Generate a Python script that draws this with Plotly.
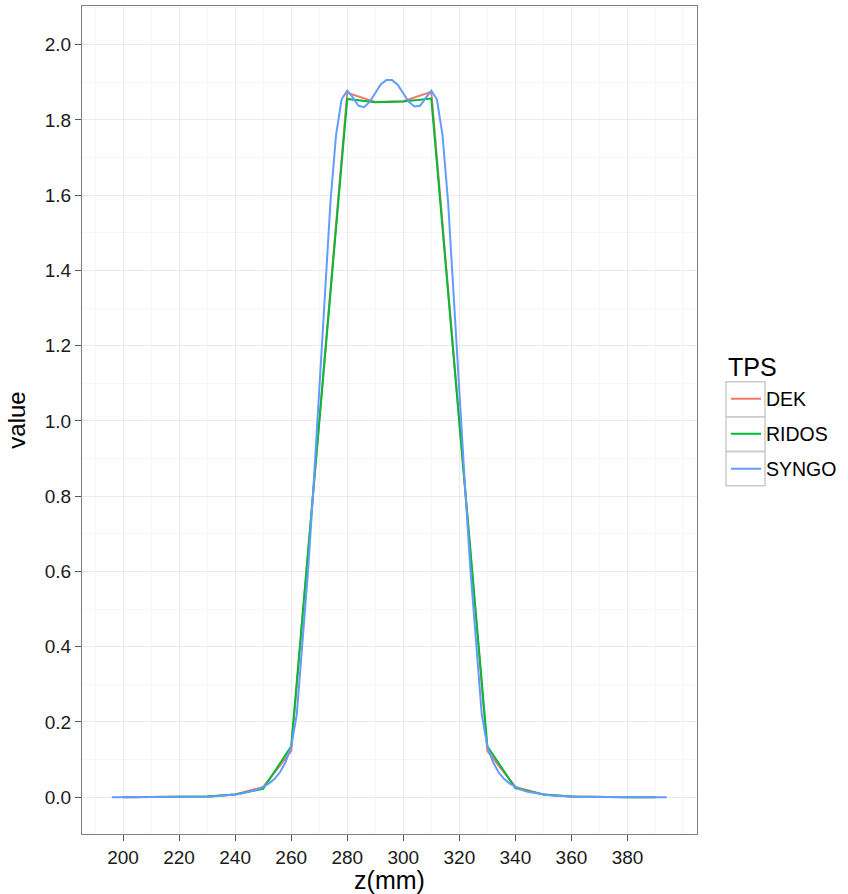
import plotly.graph_objects as go

# ---------------- data ----------------
tps_names = ["DEK", "RIDOS", "SYNGO"]
tps_colors = ["#F8766D", "#00BA38", "#619CFF"]

z_coarse = [200, 210, 220, 230, 240, 250, 260, 270, 280, 290,
            300, 310, 320, 330, 340, 350, 360, 370, 380, 390]
dek_values = [0.0, 0.0, 0.0005, 0.002, 0.007, 0.027, 0.122, 0.99, 1.872, 1.848,
              1.850, 1.875, 0.99, 0.122, 0.027, 0.007, 0.002, 0.0005, 0.0, 0.0]
ridos_values = [0.0, 0.0, 0.0005, 0.002, 0.007, 0.022, 0.135, 0.995, 1.856, 1.847,
                1.849, 1.857, 0.995, 0.135, 0.024, 0.007, 0.002, 0.0005, 0.0, 0.0]

z_fine = [196, 198, 200, 202, 204, 206, 208, 210, 212, 214,
          216, 218, 220, 222, 224, 226, 228, 230, 232, 234,
          236, 238, 240, 242, 244, 246, 248, 250, 252, 254,
          256, 258, 260, 262, 264, 266, 268, 270, 272, 274,
          276, 278, 280, 282, 284, 286, 288, 290, 292, 294,
          296, 298, 300, 302, 304, 306, 308, 310, 312, 314,
          316, 318, 320, 322, 324, 326, 328, 330, 332, 334,
          336, 338, 340, 342, 344, 346, 348, 350, 352, 354,
          356, 358, 360, 362, 364, 366, 368, 370, 372, 374,
          376, 378, 380, 382, 384, 386, 388, 390, 392, 394]
syngo_values = [0.0, 0.0, 0.0, 0.0, 0.0, 0.0, 0.0, 0.0, 0.0, 0.0,
                0.0, 0.0, 0.0002, 0.0003, 0.0004, 0.0005, 0.001, 0.0015, 0.002, 0.003,
                0.004, 0.005, 0.007, 0.009, 0.012, 0.015, 0.02, 0.027, 0.036, 0.048,
                0.066, 0.093, 0.135, 0.22, 0.40, 0.60, 0.83, 1.07, 1.32, 1.58,
                1.76, 1.855, 1.878, 1.86, 1.838, 1.834, 1.848, 1.872, 1.895, 1.906,
                1.906, 1.894, 1.872, 1.848, 1.836, 1.838, 1.858, 1.878, 1.855, 1.76,
                1.58, 1.32, 1.07, 0.83, 0.60, 0.40, 0.22, 0.135, 0.093, 0.066,
                0.048, 0.036, 0.027, 0.02, 0.015, 0.012, 0.009, 0.007, 0.005, 0.004,
                0.003, 0.002, 0.0015, 0.001, 0.0005, 0.0004, 0.0003, 0.0002, 0.0, 0.0,
                0.0, 0.0, 0.0, 0.0, 0.0, 0.0, 0.0, 0.0, 0.0, 0.0]

x_ticks = [200, 220, 240, 260, 280, 300, 320, 340, 360, 380]
y_ticks = [0.0, 0.2, 0.4, 0.6, 0.8, 1.0, 1.2, 1.4, 1.6, 1.8, 2.0]
y_tick_labels = ["0.0", "0.2", "0.4", "0.6", "0.8", "1.0", "1.2", "1.4", "1.6", "1.8", "2.0"]
legend_title = "TPS"

# ---------------- layout geometry ----------------
W, H = 848, 894
PL, PR, PT, PB = 82, 697, 5, 835  # panel pixel bounds


def px_x(p):
    return (p - PL) / (PR - PL)


def px_y(p):
    return (PB - p) / (PB - PT)


series = [(z_coarse, dek_values), (z_coarse, ridos_values), (z_fine, syngo_values)]

fig = go.Figure()
for i, (name, color, (zx, vals)) in enumerate(zip(tps_names, tps_colors, series)):
    fig.add_trace(go.Scatter(
        x=zx, y=vals, mode="lines", name=name,
        line=dict(color=color, width=2),
        legendgroup=name,
    ))

grid_major = "#ebebeb"
grid_minor = "#f6f6f6"
border = "#7f7f7f"
font_fam = "Liberation Sans, Arial, sans-serif"

fig.update_layout(
    width=W, height=H,
    margin=dict(l=PL, r=W - PR, t=PT, b=H - PB, pad=0),
    paper_bgcolor="white", plot_bgcolor="white",
    font=dict(family=font_fam, color="#1a1a1a", size=19),
    showlegend=True,
    legend=dict(
        font=dict(size=19.5, color="black"),
        x=px_x(726), xanchor="left",
        y=px_y(379.5), yanchor="top",
        bgcolor="rgba(0,0,0,0)", borderwidth=0,
        traceorder="grouped", tracegroupgap=6.65,
    ),
    xaxis=dict(
        range=[185.36, 404.8],
        tickmode="array", tickvals=x_ticks, ticktext=[str(v) for v in x_ticks],
        ticks="outside", ticklen=6, tickwidth=1.2, tickcolor="#555555",
        tickfont=dict(size=19, color="#1a1a1a"),
        showgrid=True, gridcolor=grid_major, gridwidth=1.2,
        minor=dict(dtick=10, tick0=190, showgrid=True, gridcolor=grid_minor, gridwidth=1.2, ticks=""),
        showline=True, linecolor=border, linewidth=1.2, mirror=True,
        zeroline=False,
        title=dict(text="z(mm)", font=dict(size=25, color="black"), standoff=4),
    ),
    yaxis=dict(
        range=[-0.098, 2.103],
        tickmode="array", tickvals=y_ticks, ticktext=y_tick_labels,
        ticks="outside", ticklen=6, tickwidth=1.2, tickcolor="#555555",
        tickfont=dict(size=19, color="#1a1a1a"),
        showgrid=True, gridcolor=grid_major, gridwidth=1.2,
        minor=dict(dtick=0.1, tick0=0.1, showgrid=True, gridcolor=grid_minor, gridwidth=1.2, ticks=""),
        showline=True, linecolor=border, linewidth=1.2, mirror=True,
        zeroline=False,
        title=dict(text="value", font=dict(size=24, color="black"), standoff=12),
    ),
)

# legend title as annotation (ggplot-style spacing)
fig.add_annotation(
    text=legend_title, xref="paper", yref="paper",
    x=px_x(726), y=px_y(367), xanchor="left", yanchor="middle",
    showarrow=False, font=dict(size=25, color="black", family=font_fam),
)

# legend key boxes (ggplot-style)
key_left, key_right = 726, 765
key_edges = [381.7, 416.7, 451.7, 486.0]
for k in range(len(tps_names)):
    fig.add_shape(
        type="rect", xref="paper", yref="paper",
        x0=px_x(key_left), x1=px_x(key_right),
        y0=px_y(key_edges[k + 1]), y1=px_y(key_edges[k]),
        line=dict(color="#cccccc", width=1.5), fillcolor="rgba(0,0,0,0)",
        layer="above",
    )

fig.write_html("out.html")
